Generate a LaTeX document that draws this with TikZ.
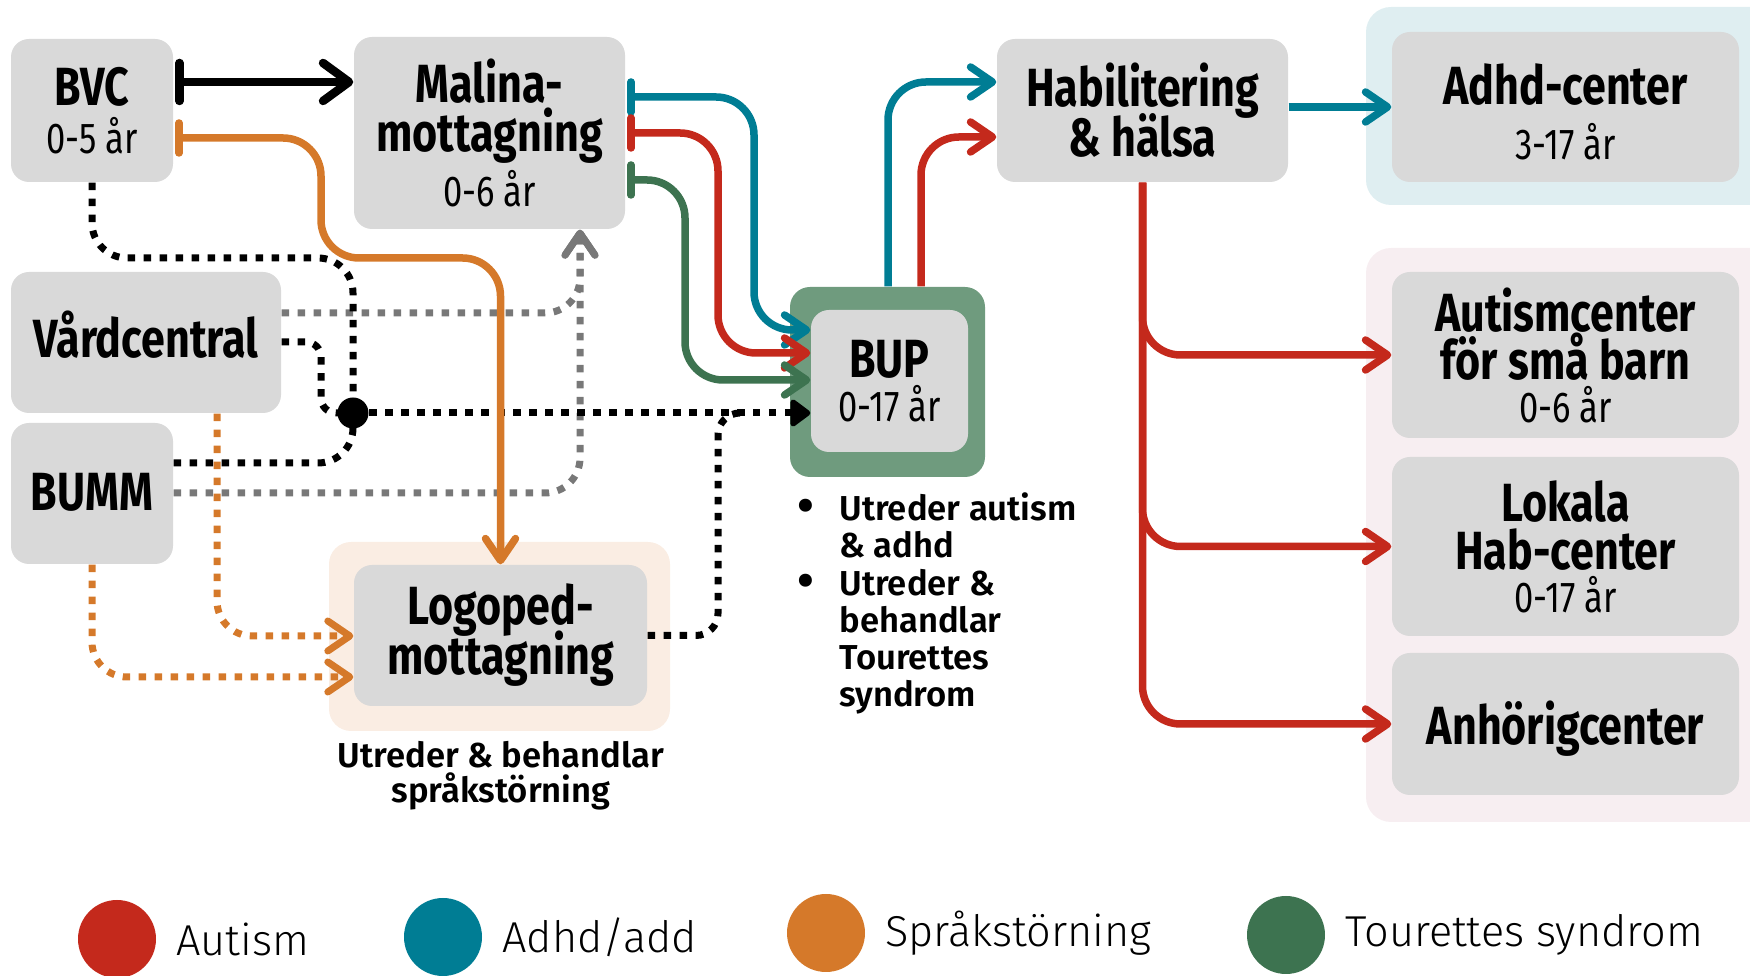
\documentclass[tikz,border=0pt]{standalone}
\usepackage{fontspec}
\setmainfont{Fira Sans}
\newfontfamily\condfont{Fira Sans}[FakeStretch=0.8]
\newfontfamily\semifont{Fira Sans SemiBold}
\newfontfamily\lightfont{Fira Sans Light}
\usetikzlibrary{arrows.meta,positioning,calc}

\definecolor{boxgray}{HTML}{D9D9D9}
\definecolor{autred}{HTML}{C4291C}
\definecolor{adhdteal}{HTML}{007D94}
\definecolor{sprorange}{HTML}{D5792A}
\definecolor{tougreen}{HTML}{3D7350}
\definecolor{bupgreen}{HTML}{6F9B7E}
\definecolor{dotgray}{HTML}{787878}
\definecolor{adhdbg}{HTML}{DFEEF1}
\definecolor{autbg}{HTML}{F7EEF1}
\definecolor{sprbg}{HTML}{FAEDE3}

\newcommand\boxlines{\condfont\bfseries\fontsize{15.3}{14}\selectfont\lineskiplimit=-20pt\relax}
\newcommand\ttl{\condfont\bfseries\fontsize{15.3}{14}\selectfont}
\newcommand\agetxt{\condfont\mdseries\fontsize{12.3}{14}\selectfont}
\newcommand\bullfont{\semifont\fontsize{9.85}{10.5}\selectfont}
\newcommand\notefont{\semifont\fontsize{9.85}{10}\selectfont\lineskiplimit=-20pt\relax}
\newcommand\bigdot{{\fontsize{14}{10}\selectfont\raisebox{-0.6pt}{\textbullet}}}
\newcommand\legfont{\lightfont\fontsize{12.3}{15}\selectfont}

\tikzset{
  startbar/.tip={Bar[width=3mm, round]},
  bigbar/.tip={Bar[width=3.8mm, round]},
  chev/.tip={Straight Barb[length=2.2mm, width=3.0mm, round]},
  bigchev/.tip={Straight Barb[length=2.6mm, width=3.8mm, round]},
  blackhead/.tip={Triangle[length=2.2mm, width=3.1mm, round]}
}

\begin{document}
\begin{tikzpicture}[
  x=0.1mm, y=-0.1mm,
  box/.style={rectangle, fill=boxgray, rounded corners=1.8mm, inner sep=0pt, align=center, font=\boxlines},
  backdrop/.style={rectangle, rounded corners=2.2mm, inner sep=0pt},
  flow/.style={line width=0.75mm, rounded corners=3.8mm},
  barred/.style={shorten <=0.15mm},
  dots/.style={line width=0.7mm, dash pattern=on 0.75mm off 0.85mm, rounded corners=3.5mm},
  legdot/.style={circle, minimum size=7.8mm, inner sep=0pt},
  legtext/.style={font=\legfont, inner sep=0pt, right=1.9mm}
]
\useasboundingbox (0,0) rectangle (1750,976);

% Backdrops
\fill[adhdbg, rounded corners=2.5mm] (1366,7) rectangle (1800,205);
\fill[autbg, rounded corners=2.5mm] (1366,248) rectangle (1800,822);
\node[backdrop, fill=sprbg, minimum width=34.1mm, minimum height=18.9mm] (logobg) at (499.5,636.5) {};
\node[backdrop, fill=bupgreen, rounded corners=2mm, minimum width=19.5mm, minimum height=19mm] (bupout) at (887.5,382) {};

% Left column
\node[box, minimum width=16.2mm, minimum height=14.3mm] (bvc) at (92,110.5) {\ttl BVC\\[-0.3pt]\agetxt 0-5 år};
\node[box, minimum width=27mm, minimum height=14.1mm, text depth=1.6mm] (vard) at (146,342.5) {\ttl Vårdcentral};
\node[box, minimum width=16.2mm, minimum height=14.1mm, text depth=0.4mm] (bumm) at (92,493.5) {\ttl BUMM};

% Middle
\node[box, minimum width=27.1mm, minimum height=19.2mm] (malina) at (489.5,133) {\ttl Malina-\\\ttl mottagning\\[1.6pt]\agetxt 0-6 år};
\node[box, minimum width=29.3mm, minimum height=14.1mm] (logo) at (500.5,635.5) {\ttl Logoped-\\[0.2pt]\ttl mottagning};
\node[font=\notefont, align=center, inner sep=0pt] (logonote) at (501,776) {Utreder \& behandlar\\språkstörning};
\node[box, minimum width=15.7mm, minimum height=14.2mm] (bupin) at (889.5,381) {\ttl BUP\\[-1.5pt]\agetxt 0-17 år};
\node[anchor=north west, inner sep=0pt, font=\bullfont] (bupnote) at (797,492) {%
  \begin{tabular}{@{}l@{\hspace{2.5mm}}l@{}}
  \bigdot & Utreder autism\\
          & \& adhd\\
  \bigdot & Utreder \&\\
          & behandlar\\
          & Tourettes\\
          & syndrom
  \end{tabular}};

% Right
\node[box, minimum width=29.1mm, minimum height=14.3mm] (hab) at (1142.5,110.5) {\ttl Habilitering\\[0.2pt]\ttl \& hälsa};
\node[box, minimum width=34.7mm, minimum height=15mm, text height=30pt] (adhd) at (1565.5,107) {\ttl Adhd-center\\[1.6pt]\agetxt 3-17 år};
\node[box, minimum width=34.7mm, minimum height=16.6mm] (aut) at (1565.5,355) {\ttl Autismcenter\\[-0.3pt]\ttl för små barn\\[-1.8pt]\agetxt 0-6 år};
\node[box, minimum width=34.7mm, minimum height=17.9mm] (lok) at (1565.5,546.5) {\ttl Lokala\\[-0.1pt]\ttl Hab-center\\[-2pt]\agetxt 0-17 år};
\node[box, minimum width=34.7mm, minimum height=14.2mm, text depth=0.2mm] (anh) at (1565.5,724) {\ttl Anhörigcenter};

% Dotted referrals
\coordinate (merge) at (745,413);
\draw[dots, dotgray, -{chev}] (vard.east |- 0,313) -| (580,0 |- malina.south);
\draw[dots, dotgray, -{chev}] (bumm.east |- 0,493) -| (580,0 |- malina.south);
\draw[dots, sprorange, -{chev}] (217,0 |- vard.south) |- (logo.west |- 0,636);
\draw[dots, sprorange, -{chev}] (bumm.south) |- (logo.west |- 0,677);
\node[circle, inner sep=0pt, minimum size=0pt] (hubpt) at (353,413) {};
\draw[dots] (bvc.south) |- (hubpt |- 0,258) -- (hubpt.center);
\draw[dots, rounded corners=1.5mm] (vard.east |- 0,342) -| (321,413) -- (hubpt.center);
\draw[dots] (bumm.east |- 0,463) -| (hubpt.center);
\draw[dots, rounded corners=2.2mm] (logo.east) -| (718,413) -- (merge);
\draw[dots, -{blackhead}] (hubpt.center) -- (bupin.west |- hubpt);
\node[circle, fill=black, minimum size=3.1mm, inner sep=0pt] (hub) at (hubpt) {};

% Solid referrals
\draw[flow, line width=0.85mm, barred, {bigbar}-{bigchev}] (bvc.east |- 0,82) -- (malina.west |- 0,82);
\draw[flow, sprorange, barred, {startbar}-{chev}] (bvc.east |- 0,138) -| (321,258) -| (logo.north);
\draw[flow, adhdteal, barred, {startbar}-{chev}] (malina.east |- 0,97) -| (754,330) -- (bupin.west |- 0,330);
\draw[flow, autred, barred, {startbar}-{chev}] (malina.east |- 0,133) -| (718,353) -- (bupin.west |- 0,353);
\draw[flow, tougreen, barred, {startbar}-{chev}] (malina.east |- 0,180) -| (685,380) -- (bupin.west |- 0,380);
\draw[flow, adhdteal, -{chev}] (888,0 |- bupout.north) |- (hab.west |- 0,82);
\draw[flow, autred, -{chev}] (921,0 |- bupout.north) |- (hab.west |- 0,137);
\draw[flow, adhdteal, -{chev}] (hab.east |- adhd.west) -- (adhd.west);
\draw[flow, autred, -{chev}] (hab.south) |- (aut.west);
\draw[flow, autred, -{chev}] (hab.south) |- (lok.west);
\draw[flow, autred, -{chev}] (hab.south) |- (anh.west);

% Legend
\node[legdot, fill=autred] (legaut) at (117,939) {};
\node[legtext] at (legaut.east) {Autism};
\node[legdot, fill=adhdteal] (legadhd) at (443,937) {};
\node[legtext] at (legadhd.east) {Adhd/add};
\node[legdot, fill=sprorange] (legspr) at (826,933) {};
\node[legtext] at (legspr.east) {Språkstörning};
\node[legdot, fill=tougreen] (legtou) at (1286,935) {};
\node[legtext] at (legtou.east) {Tourettes syndrom};

\end{tikzpicture}
\end{document}
